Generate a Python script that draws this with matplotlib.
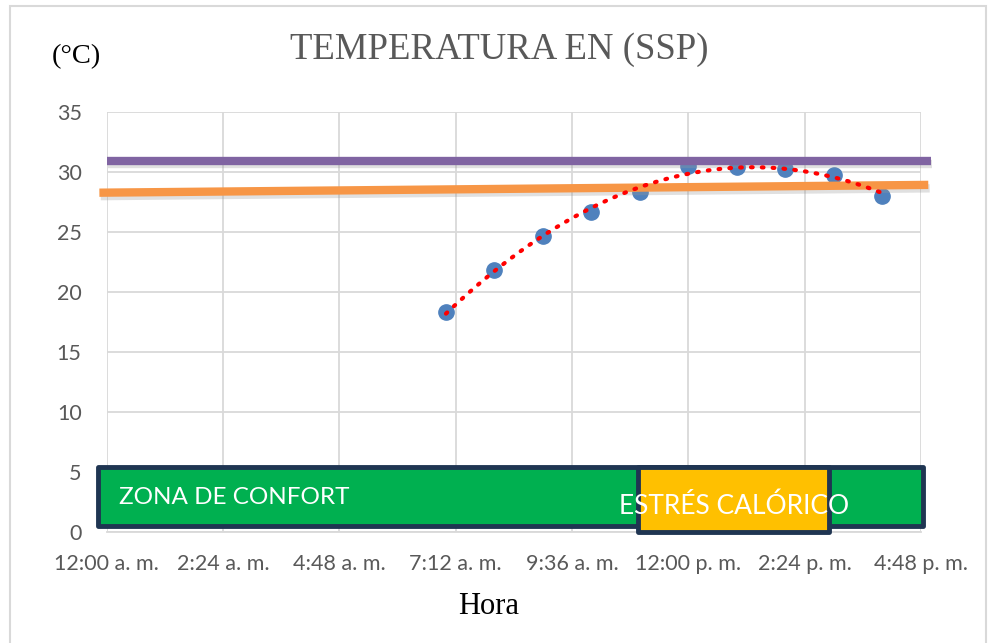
import matplotlib
matplotlib.use('agg')
import matplotlib.pyplot as plt
import matplotlib.patheffects as pe
from matplotlib.patches import Rectangle
import numpy as np

# measured data (hour of day, temperature in C)
hours = [7, 8, 9, 10, 11, 12, 13, 14, 15, 16]
temps = [18.3, 21.8, 24.6, 26.6, 28.3, 30.5, 30.4, 30.2, 29.7, 28.0]

# reference lines
upper_hours = [0.0, 17.0]
upper_temp = [30.9, 30.9]
comfort_hours = [-0.15, 16.95]
comfort_temp = [28.25, 28.9]

tick_hours = [0, 2.4, 4.8, 7.2, 9.6, 12.0, 14.4, 16.8]
tick_labels = ['12:00 a. m.', '2:24 a. m.', '4:48 a. m.', '7:12 a. m.',
               '9:36 a. m.', '12:00 p. m.', '2:24 p. m.', '4:48 p. m.']
y_ticks = [0, 5, 10, 15, 20, 25, 30, 35]

serif = 'Liberation Serif'
sans = 'Lato'
gray = '#595959'

fig = plt.figure(figsize=(9.93, 6.43), dpi=100)
ax = fig.add_axes([0.1074, 0.1731, 0.8201, 0.6532])

# outer chart border
fig.add_artist(Rectangle((0.010, -0.01), 0.983, 1.0, transform=fig.transFigure,
                         fill=False, edgecolor='#D9D9D9', linewidth=1.5))

ax.set_xlim(0, 16.8)
ax.set_ylim(0, 35)
ax.set_xticks(tick_hours)
ax.set_xticklabels(tick_labels)
ax.set_yticks(y_ticks)
ax.grid(True, color='#D9D9D9', linewidth=1.3)
ax.set_axisbelow(True)
for s in ['top', 'right', 'left']:
    ax.spines[s].set_visible(False)
ax.spines['bottom'].set_color('#D9D9D9')
ax.spines['bottom'].set_linewidth(1.3)
ax.tick_params(length=0, labelsize=15.5, labelcolor=gray)
ax.tick_params(axis='y', pad=18)
ax.tick_params(axis='x', pad=16)
for lab in ax.get_xticklabels() + ax.get_yticklabels():
    lab.set_fontfamily(sans)

# data points
ax.plot(hours, temps, 'o', color='#4F81BD', markersize=11, zorder=3, clip_on=False)

# polynomial trend line
coef = np.polyfit(hours, temps, 2)
xs = np.linspace(hours[0], hours[-1], 200)
ax.plot(xs, np.polyval(coef, xs), color='red', linestyle=(0, (0.4, 2.2)),
        linewidth=3, dash_capstyle='round', zorder=6)

shadow = [pe.SimpleLineShadow(offset=(1, -2.5), shadow_color='#999999', alpha=0.3),
          pe.Normal()]
ax.plot(comfort_hours, comfort_temp, color='#F79646', linewidth=6,
        solid_capstyle='butt', zorder=4, clip_on=False, path_effects=shadow)
ax.plot(upper_hours, upper_temp, color='#8064A2', linewidth=6,
        solid_capstyle='butt', zorder=5, clip_on=False, path_effects=shadow)

# zone boxes
ax.add_patch(Rectangle((-0.18, 0.45), 17.02, 4.95, facecolor='#00B050',
                       edgecolor='#1F3552', linewidth=3.5, zorder=7, clip_on=False,
                       joinstyle='round'))
ax.add_patch(Rectangle((10.96, 0.0), 3.94, 5.4, facecolor='#FFC000',
                       edgecolor='#1F3552', linewidth=3.5, zorder=8, clip_on=False,
                       joinstyle='round'))
ax.text(0.25, 2.85, 'ZONA DE CONFORT', color='white', fontsize=17.5, family=sans,
        ha='left', va='center', zorder=9)
ax.text(12.95, 2.15, 'ESTRÉS CALÓRICO', color='white', fontsize=19, family=sans,
        ha='center', va='center', zorder=9)

fig.text(0.503, 0.922, 'TEMPERATURA EN (SSP)', color=gray, fontsize=26.5,
         family=serif, ha='center', va='center')
fig.text(0.077, 0.912, '(°C)', color='black', fontsize=20.5, family=serif,
         ha='center', va='center')
fig.text(0.492, 0.056, 'Hora', color='black', fontsize=22, family=serif,
         ha='center', va='center')

fig.savefig('out.png', dpi=100)
